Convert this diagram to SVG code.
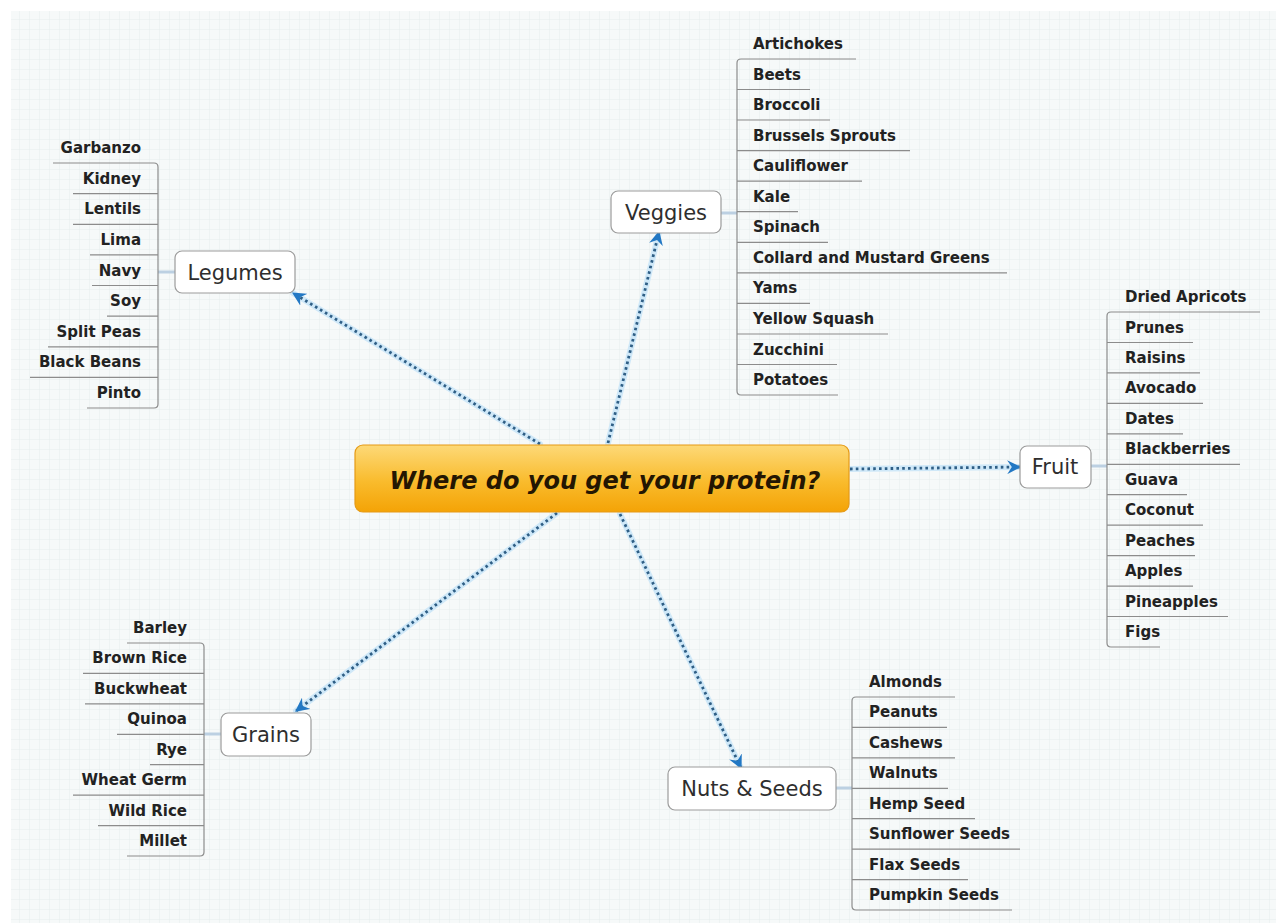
<svg xmlns="http://www.w3.org/2000/svg" width="1276" height="923" viewBox="0 0 1276 923">
<defs>
<pattern id="grid" width="10" height="10" patternUnits="userSpaceOnUse">
<rect width="10" height="10" fill="#f6f9f9"/>
<path d="M10,0 V10 M0,10 H10" stroke="#e6eded" stroke-width="1" fill="none"/>
</pattern>
<linearGradient id="orange" x1="0" y1="0" x2="0" y2="1">
<stop offset="0" stop-color="#fdd978"/>
<stop offset="0.55" stop-color="#f9bb2c"/>
<stop offset="1" stop-color="#f4a306"/>
</linearGradient>
<marker id="arrow" viewBox="0 0 12 12" refX="11" refY="6" markerWidth="14" markerHeight="14" orient="auto" markerUnits="userSpaceOnUse">
<path d="M0,0 L12,6 L0,12 L4,6 z" fill="#2378c4"/>
</marker>
<style>
.leaf{font-family:"DejaVu Sans",sans-serif;font-weight:bold;font-size:15px;fill:#222;}
.lend{text-anchor:end;}
.ul{stroke:#8c8c8c;stroke-width:1.2;fill:none;}
.stub{stroke:#bcd0e2;stroke-width:3;fill:none;}
.box{fill:#ffffff;stroke:#9c9c9c;stroke-width:1.2;}
.ntext{font-family:"DejaVu Sans",sans-serif;font-size:21px;fill:#2e2e2e;text-anchor:middle;}
.halo{stroke:#cfe8f8;stroke-width:6;fill:none;stroke-linecap:round;}
.dots{stroke:#2f5f86;stroke-width:2.8;fill:none;stroke-dasharray:2.6 3.2;}
</style>
</defs>
<rect width="1276" height="923" fill="#ffffff"/>
<rect x="11" y="11" width="1265" height="912" fill="url(#grid)"/>

<g id="connectors">
<path class="halo" d="M540,444 L293,293"/>
<path class="dots" d="M540,444 L293,293" marker-end="url(#arrow)"/>
<path class="halo" d="M608,443 L659,232"/>
<path class="dots" d="M608,443 L659,232" marker-end="url(#arrow)"/>
<path class="halo" d="M850,469 L1020,467"/>
<path class="dots" d="M850,469 L1020,467" marker-end="url(#arrow)"/>
<path class="halo" d="M557,513 L296,711"/>
<path class="dots" d="M557,513 L296,711" marker-end="url(#arrow)"/>
<path class="halo" d="M620,514 L741,768"/>
<path class="dots" d="M620,514 L741,768" marker-end="url(#arrow)"/>
</g>

<g id="center">
<rect x="355" y="445" width="494" height="67" rx="8" fill="url(#orange)" stroke="#e59a16" stroke-width="1.2"/>
<text x="605" y="489" font-family="DejaVu Sans, sans-serif" font-size="24" font-weight="bold" font-style="italic" fill="#241602" text-anchor="middle">Where do you get your protein?</text>
</g>

<g id="veggies">
<path class="stub" d="M721,213 H737"/>
<rect class="box" x="611" y="191" width="110" height="42" rx="7"/>
<text class="ntext" x="666" y="220">Veggies</text>
<path class="ul" d="M856,59 H741 Q737,59 737,63 V391 Q737,395 741,395 H838"/>
<path class="ul" d="M737,89.5 H810 M737,120 H830 M737,150.6 H910 M737,181.2 H862 M737,211.7 H798 M737,242.3 H828 M737,272.9 H1007 M737,303.4 H810 M737,334 H888 M737,364.5 H837"/>
<text class="leaf" x="753" y="49">Artichokes</text>
<text class="leaf" x="753" y="79.5">Beets</text>
<text class="leaf" x="753" y="110">Broccoli</text>
<text class="leaf" x="753" y="140.6">Brussels Sprouts</text>
<text class="leaf" x="753" y="171.2">Cauliflower</text>
<text class="leaf" x="753" y="201.7">Kale</text>
<text class="leaf" x="753" y="232.3">Spinach</text>
<text class="leaf" x="753" y="262.9">Collard and Mustard Greens</text>
<text class="leaf" x="753" y="293.4">Yams</text>
<text class="leaf" x="753" y="324">Yellow Squash</text>
<text class="leaf" x="753" y="354.5">Zucchini</text>
<text class="leaf" x="753" y="385">Potatoes</text>
</g>

<g id="legumes">
<path class="stub" d="M158,272 H175"/>
<rect class="box" x="175" y="251" width="120" height="42" rx="7"/>
<text class="ntext" x="235" y="280">Legumes</text>
<path class="ul" d="M53,163 H154 Q158,163 158,167 V404 Q158,408 154,408 H87"/>
<path class="ul" d="M158,193.6 H73 M158,224.3 H73 M158,254.9 H90 M158,285.5 H92 M158,316.1 H107 M158,346.8 H48 M158,377.4 H30"/>
<text class="leaf lend" x="141" y="153">Garbanzo</text>
<text class="leaf lend" x="141" y="183.6">Kidney</text>
<text class="leaf lend" x="141" y="214.3">Lentils</text>
<text class="leaf lend" x="141" y="244.9">Lima</text>
<text class="leaf lend" x="141" y="275.5">Navy</text>
<text class="leaf lend" x="141" y="306.1">Soy</text>
<text class="leaf lend" x="141" y="336.8">Split Peas</text>
<text class="leaf lend" x="141" y="367.4">Black Beans</text>
<text class="leaf lend" x="141" y="398">Pinto</text>
</g>

<g id="fruit">
<path class="stub" d="M1091,466 H1107"/>
<rect class="box" x="1020" y="446" width="71" height="42" rx="7"/>
<text class="ntext" x="1055" y="474">Fruit</text>
<path class="ul" d="M1260,312 H1111 Q1107,312 1107,316 V643 Q1107,647 1111,647 H1160"/>
<path class="ul" d="M1107,342.5 H1193 M1107,372.9 H1200 M1107,403.4 H1203 M1107,433.8 H1183 M1107,464.3 H1240 M1107,494.7 H1187 M1107,525.2 H1203 M1107,555.6 H1195 M1107,586.1 H1193 M1107,616.5 H1228"/>
<text class="leaf" x="1125" y="302">Dried Apricots</text>
<text class="leaf" x="1125" y="332.5">Prunes</text>
<text class="leaf" x="1125" y="362.9">Raisins</text>
<text class="leaf" x="1125" y="393.4">Avocado</text>
<text class="leaf" x="1125" y="423.8">Dates</text>
<text class="leaf" x="1125" y="454.3">Blackberries</text>
<text class="leaf" x="1125" y="484.7">Guava</text>
<text class="leaf" x="1125" y="515.2">Coconut</text>
<text class="leaf" x="1125" y="545.6">Peaches</text>
<text class="leaf" x="1125" y="576.1">Apples</text>
<text class="leaf" x="1125" y="606.5">Pineapples</text>
<text class="leaf" x="1125" y="637">Figs</text>
</g>

<g id="grains">
<path class="stub" d="M204,734 H221"/>
<rect class="box" x="221" y="713" width="90" height="43" rx="7"/>
<text class="ntext" x="266" y="742">Grains</text>
<path class="ul" d="M127,643 H200 Q204,643 204,647 V852 Q204,856 200,856 H127"/>
<path class="ul" d="M204,673.4 H83 M204,703.9 H85 M204,734.3 H117 M204,764.7 H150 M204,795.1 H73 M204,825.6 H98"/>
<text class="leaf lend" x="187" y="633">Barley</text>
<text class="leaf lend" x="187" y="663.4">Brown Rice</text>
<text class="leaf lend" x="187" y="693.9">Buckwheat</text>
<text class="leaf lend" x="187" y="724.3">Quinoa</text>
<text class="leaf lend" x="187" y="754.7">Rye</text>
<text class="leaf lend" x="187" y="785.1">Wheat Germ</text>
<text class="leaf lend" x="187" y="815.6">Wild Rice</text>
<text class="leaf lend" x="187" y="846">Millet</text>
</g>

<g id="nuts">
<path class="stub" d="M836,788 H852"/>
<rect class="box" x="668" y="767" width="168" height="43" rx="7"/>
<text class="ntext" x="752" y="796">Nuts &amp; Seeds</text>
<path class="ul" d="M955,697 H856 Q852,697 852,701 V906 Q852,910 856,910 H1012"/>
<path class="ul" d="M852,727.4 H947 M852,757.9 H955 M852,788.3 H948 M852,818.7 H975 M852,849.1 H1020 M852,879.6 H968"/>
<text class="leaf" x="869" y="687">Almonds</text>
<text class="leaf" x="869" y="717.4">Peanuts</text>
<text class="leaf" x="869" y="747.9">Cashews</text>
<text class="leaf" x="869" y="778.3">Walnuts</text>
<text class="leaf" x="869" y="808.7">Hemp Seed</text>
<text class="leaf" x="869" y="839.1">Sunflower Seeds</text>
<text class="leaf" x="869" y="869.6">Flax Seeds</text>
<text class="leaf" x="869" y="900">Pumpkin Seeds</text>
</g>
</svg>
